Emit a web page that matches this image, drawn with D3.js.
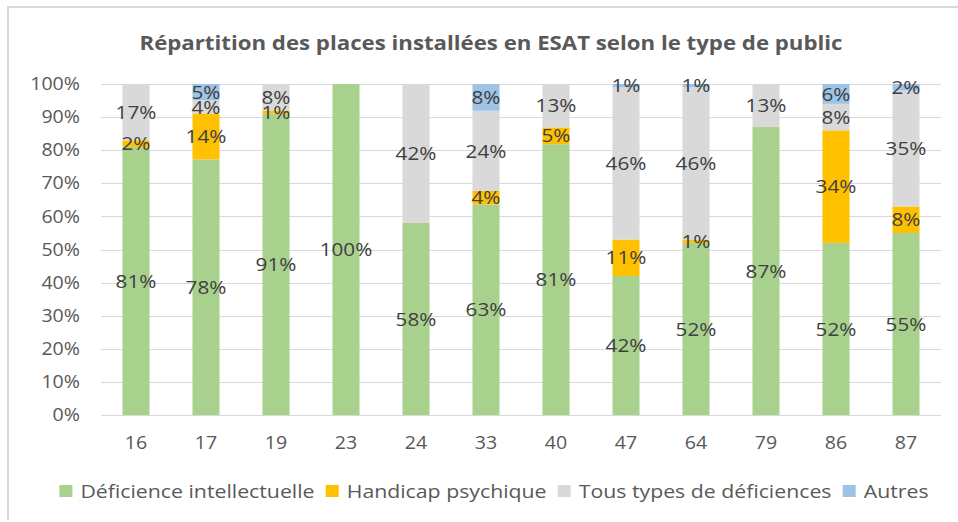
<!DOCTYPE html>
<html>
<head>
<meta charset="utf-8">
<script src="https://cdn.jsdelivr.net/npm/d3@7"></script>
<style>
  body { margin: 0; background: #fff; }
  text { font-family: "Open Sans", sans-serif; }
</style>
</head>
<body>
<script>
// departements
var categories = ["16", "17", "19", "23", "24", "33", "40", "47", "64", "79", "86", "87"];
var seriesNames = ["Déficience intellectuelle", "Handicap psychique", "Tous types de déficiences", "Autres"];
var deficience = [81, 78, 91, 100, 58, 63, 81, 42, 52, 87, 52, 55];
var psychique  = [2, 14, 1, 0, 0, 4, 5, 11, 1, 0, 34, 8];
var tousTypes  = [17, 4, 8, 0, 42, 24, 13, 46, 46, 13, 8, 35];
var autres     = [0, 5, 0, 0, 0, 8, 0, 1, 1, 0, 6, 2];
var yTicks = [0, 0.1, 0.2, 0.3, 0.4, 0.5, 0.6, 0.7, 0.8, 0.9, 1];
var colors = ["#a9d18e", "#ffc000", "#d9d9d9", "#9dc3e6"];

var width = 958, height = 522;
var stretch = 1.12;

var svg = d3.select("body").append("svg")
  .attr("width", width)
  .attr("height", height);

// cadre
svg.append("path")
  .attr("d", "M8,520 V7 H958")
  .attr("fill", "none")
  .attr("stroke", "#d9d9d9")
  .attr("stroke-width", 2);

svg.append("text")
  .attr("x", 491).attr("y", 50)
  .attr("text-anchor", "middle")
  .attr("font-size", 20)
  .attr("font-weight", "bold")
  .attr("fill", "#595959")
  .attr("textLength", 703)
  .attr("lengthAdjust", "spacingAndGlyphs")
  .text("Répartition des places installées en ESAT selon le type de public");

var rows = categories.map(function(c, i) {
  return { cat: c, s0: deficience[i], s1: psychique[i], s2: tousTypes[i], s3: autres[i] };
});

var stack = d3.stack()
  .keys(["s0", "s1", "s2", "s3"])
  .offset(d3.stackOffsetExpand);
var layers = stack(rows);

var x = d3.scaleBand()
  .domain(categories)
  .range([101, 941])
  .paddingInner(0.614)
  .paddingOuter(0.307);

var y = d3.scaleLinear()
  .domain([0, 1])
  .range([415, 84]);

// grille
svg.append("g").selectAll("line")
  .data(yTicks)
  .enter().append("line")
  .attr("x1", 101).attr("x2", 941)
  .attr("y1", function(d) { return Math.round(y(d)) + 0.5; })
  .attr("y2", function(d) { return Math.round(y(d)) + 0.5; })
  .attr("stroke", "#d9d9d9")
  .attr("stroke-width", 1);

var yAxis = svg.append("g")
  .attr("transform", "translate(101,0)")
  .call(d3.axisLeft(y).tickValues(yTicks).tickFormat(d3.format(".0%")).tickSize(0).tickPadding(0));
yAxis.select(".domain").remove();
yAxis.selectAll("text")
  .attr("font-size", 17.5)
  .attr("fill", "#595959")
  .attr("font-family", "Open Sans, sans-serif")
  .attr("x", null)
  .attr("transform", "translate(-21,0) scale(" + stretch + ",1)");

var xAxis = svg.append("g")
  .attr("transform", "translate(0,415)")
  .call(d3.axisBottom(x).tickSize(0).tickPadding(0));
xAxis.select(".domain").remove();
xAxis.selectAll("text")
  .attr("font-size", 17.5)
  .attr("fill", "#595959")
  .attr("font-family", "Open Sans, sans-serif")
  .attr("y", 0)
  .attr("dy", "0.35em")
  .attr("transform", "translate(0,28) scale(" + stretch + ",1)");

var groups = svg.append("g").selectAll("g")
  .data(layers)
  .enter().append("g")
  .attr("fill", function(d, i) { return colors[i]; });

groups.selectAll("rect")
  .data(function(d) { return d; })
  .enter().append("rect")
  .attr("x", function(d) { return x(d.data.cat); })
  .attr("width", x.bandwidth())
  .attr("y", function(d) { return y(d[1]); })
  .attr("height", function(d) { return y(d[0]) - y(d[1]); });

var labels = svg.append("g");
layers.forEach(function(layer) {
  layer.forEach(function(d) {
    var v = d.data[layer.key];
    if (v <= 0) return;
    var cx = x(d.data.cat) + x.bandwidth() / 2;
    var cy = (y(d[0]) + y(d[1])) / 2;
    labels.append("text")
      .attr("transform", "translate(" + cx + "," + cy + ") scale(" + stretch + ",1)")
      .attr("text-anchor", "middle")
      .attr("dy", "0.36em")
      .attr("font-size", 18.5)
      .attr("fill", "#404040")
      .text(v + "%");
  });
});

// legende
var legend = svg.append("g").attr("transform", "translate(0,491)");
var items = legend.selectAll("g")
  .data(seriesNames)
  .enter().append("g");
items.append("rect")
  .attr("y", -6).attr("width", 13).attr("height", 12)
  .attr("fill", function(d, i) { return colors[i]; });
items.append("text")
  .attr("dy", "0.35em")
  .attr("font-size", 19)
  .attr("fill", "#595959")
  .text(function(d) { return d; });

var pos = 0, positions = [];
items.each(function() {
  var t = d3.select(this).select("text");
  var w = t.node().getComputedTextLength() * stretch;
  positions.push(pos);
  t.attr("transform", "translate(21,0) scale(" + stretch + ",1)");
  pos += 21 + w + 11;
});
var total = pos - 11;
var start = 494 - total / 2;
items.attr("transform", function(d, i) { return "translate(" + (start + positions[i]) + ",0)"; });
</script>
</body>
</html>
